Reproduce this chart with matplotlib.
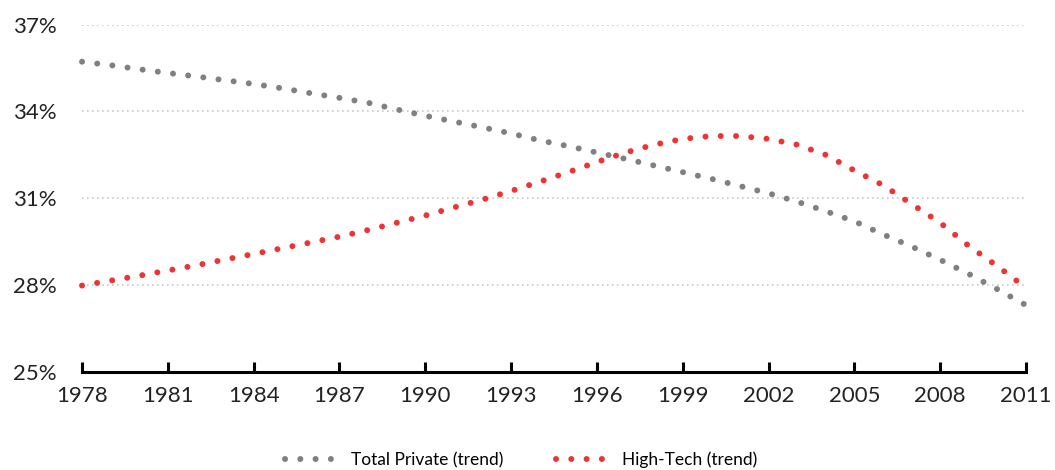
import matplotlib
matplotlib.use("Agg")
import matplotlib.pyplot as plt

years = list(range(1978, 2012))
total_private = [35.72, 35.60, 35.46, 35.33, 35.21, 35.08, 34.95, 34.80, 34.63, 34.47,
                 34.30, 34.07, 33.85, 33.65, 33.45, 33.24, 33.00, 32.80, 32.58, 32.36,
                 32.13, 31.90, 31.67, 31.42, 31.17, 30.88, 30.55, 30.20, 29.75, 29.33,
                 28.87, 28.38, 27.85, 27.30]
high_tech = [27.98, 28.15, 28.32, 28.50, 28.68, 28.88, 29.07, 29.27, 29.47, 29.67,
             29.90, 30.15, 30.40, 30.68, 30.95, 31.25, 31.57, 31.90, 32.25, 32.58,
             32.85, 33.05, 33.15, 33.15, 33.05, 32.85, 32.50, 31.96, 31.45, 30.80,
             30.15, 29.35, 28.65, 27.90]
x_ticks = list(range(1978, 2012, 3))
y_ticks = [25, 28, 31, 34, 37]

plt.rcParams['font.family'] = ['Lato', 'DejaVu Sans']

fig = plt.figure(figsize=(10.55, 4.7), dpi=100)
ax = fig.add_axes([82 / 1055, 1 - 371.7 / 470, (1026 - 82) / 1055, (371.7 - 24.7) / 470])

# round dots: tiny dash + round cap, gap in linewidth units
dots = (0, (0.01, 2.55))
ax.plot(years, total_private, color="#808080", linewidth=4.3, linestyle=dots,
        dash_capstyle="round", label="Total Private (trend)", clip_on=False)
ax.plot(years, high_tech, color="#EE3333", linewidth=4.3, linestyle=dots,
        dash_capstyle="round", label="High-Tech (trend)", clip_on=False)

ax.set_xlim(1978, 2011)
ax.set_ylim(25, 37)
ax.set_xticks(x_ticks)
ax.set_yticks(y_ticks)
ax.set_yticklabels([f"{v}%" for v in y_ticks])

for v in y_ticks[1:]:
    ax.axhline(v, color="#C8C8C8", linewidth=1.2, linestyle=(0, (1, 2)), zorder=0)

for s in ["top", "right", "left"]:
    ax.spines[s].set_visible(False)
ax.spines["bottom"].set_linewidth(2.2)
ax.spines["bottom"].set_color("black")

ax.tick_params(axis="x", direction="in", length=7, width=2.2, pad=10,
               labelsize=16, labelcolor="#222222")
ax.tick_params(axis="y", length=0, pad=18, labelsize=16, labelcolor="#222222")

leg = ax.legend(loc="center", bbox_to_anchor=(0.465, -0.255), ncol=2, frameon=False,
                fontsize=12.5, handlelength=3.2, columnspacing=3.0, handletextpad=0.6)

fig.savefig("out.png", dpi=100)
